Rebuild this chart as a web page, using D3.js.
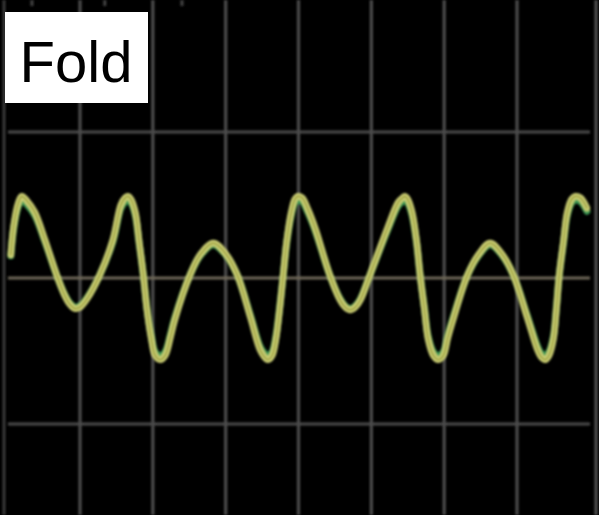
<!DOCTYPE html>
<html><head><meta charset="utf-8">
<script src="https://cdn.jsdelivr.net/npm/d3@7"></script>
<style>html,body{margin:0;padding:0;background:#000;overflow:hidden}</style>
</head><body>
<script>
// time in divisions, voltage in divisions
const timeDiv = [0.05,0.09,0.15,0.20,0.27,0.38,0.52,0.68,0.79,0.86,0.93,1.00,1.10,1.27,1.45,1.56,1.62,1.66,1.70,1.76,1.81,1.87,1.92,1.98,2.03,2.10,2.17,2.24,2.30,2.51,2.65,2.83,3.01,3.16,3.34,3.47,3.53,3.58,3.64,3.69,3.74,3.79,3.84,3.90,3.95,3.99,4.05,4.13,4.23,4.43,4.57,4.64,4.71,4.78,4.85,4.98,5.22,5.37,5.43,5.46,5.50,5.56,5.62,5.67,5.73,5.78,5.85,5.92,5.99,6.05,6.12,6.32,6.47,6.63,6.80,6.95,7.14,7.28,7.33,7.39,7.44,7.50,7.54,7.58,7.64,7.69,7.75,7.80,7.87,7.96];
const voltDiv = [0.16,0.36,0.51,0.56,0.53,0.45,0.26,0.02,-0.12,-0.18,-0.21,-0.20,-0.14,0.02,0.26,0.50,0.55,0.56,0.54,0.45,0.26,0.02,-0.22,-0.42,-0.53,-0.56,-0.53,-0.41,-0.29,0.02,0.16,0.24,0.16,0.02,-0.27,-0.49,-0.54,-0.56,-0.53,-0.42,-0.22,0.02,0.26,0.45,0.54,0.56,0.55,0.47,0.34,0.02,-0.15,-0.20,-0.22,-0.20,-0.15,0.02,0.34,0.52,0.55,0.56,0.54,0.45,0.26,0.02,-0.22,-0.42,-0.53,-0.56,-0.53,-0.41,-0.29,0.02,0.16,0.24,0.16,0.02,-0.27,-0.49,-0.54,-0.56,-0.53,-0.42,-0.22,0.02,0.26,0.45,0.54,0.56,0.55,0.48];
const xGrid = [1,2,3,4,5,6,7];
const yGrid = [-1,0,1];
const label = "Fold";

const W = 599, H = 515;
const svg = d3.select("body").append("svg").attr("width", W).attr("height", H);
svg.append("rect").attr("width", W).attr("height", H).attr("fill", "#000");

const x = d3.scaleLinear().domain([1,7]).range([80,517]);
const y = d3.scaleLinear().domain([-1,1]).range([424,132]);
const yG = d3.scaleLinear().domain([-1.05,1.05]).range([424,132]);

const defs = svg.append("defs");
defs.append("filter").attr("id","blur").append("feGaussianBlur").attr("stdDeviation",0.9);
defs.append("filter").attr("id","blur2").append("feGaussianBlur").attr("stdDeviation",0.8);

const grid = svg.append("g").attr("filter","url(#blur)");
grid.append("line").attr("x1",4).attr("x2",4).attr("y1",0).attr("y2",H).attr("stroke","#3a3a3a").attr("stroke-width",3);
grid.append("line").attr("x1",596).attr("x2",596).attr("y1",0).attr("y2",H).attr("stroke","#555").attr("stroke-width",3);
grid.selectAll(".vg").data(xGrid).enter().append("line")
  .attr("x1",d=>x(d)).attr("x2",d=>x(d)).attr("y1",0).attr("y2",H)
  .attr("stroke","#4c4c4c").attr("stroke-width",3.2);
grid.selectAll(".hg").data(yGrid).enter().append("line")
  .attr("x1",8).attr("x2",590).attr("y1",d=>y(d)).attr("y2",d=>y(d))
  .attr("stroke",d=>d===0?"#6e6858":"#4c4c4c").attr("stroke-width",3.2);
grid.selectAll(".tm").data([0.34,1.34,2.4]).enter().append("line")
  .attr("x1",d=>x(d)).attr("x2",d=>x(d)).attr("y1",0).attr("y2",6)
  .attr("stroke","#444").attr("stroke-width",3);

const pts = timeDiv.map((t,i)=>[t, voltDiv[i]]);
const lineY = d3.line().x(d=>x(d[0])).y(d=>y(d[1])).curve(d3.curveCatmullRom.alpha(0.5));
const lineG = d3.line().x(d=>x(d[0])).y(d=>yG(d[1])).curve(d3.curveCatmullRom.alpha(0.5));

const tr = svg.append("g").attr("filter","url(#blur2)");
tr.append("path").datum(pts).attr("d",lineG).attr("fill","none")
  .attr("stroke","#3f9a55").attr("stroke-width",7).attr("stroke-linecap","round");
tr.append("path").datum(pts).attr("d",lineY).attr("fill","none")
  .attr("stroke","#cfd277").attr("stroke-width",6.5).attr("stroke-linecap","round");
tr.append("path").datum(pts).attr("d",lineY).attr("fill","none")
  .attr("stroke","#9ea243").attr("stroke-width",2).attr("stroke-linecap","round");

svg.append("rect").attr("x",5).attr("y",12).attr("width",143).attr("height",91).attr("fill","#fff");
svg.append("text").attr("x",76).attr("y",82).attr("text-anchor","middle")
  .attr("font-family","Liberation Sans, Arial, sans-serif").attr("font-size",58)
  .attr("fill","#000").text(label);
</script>
</body></html>
